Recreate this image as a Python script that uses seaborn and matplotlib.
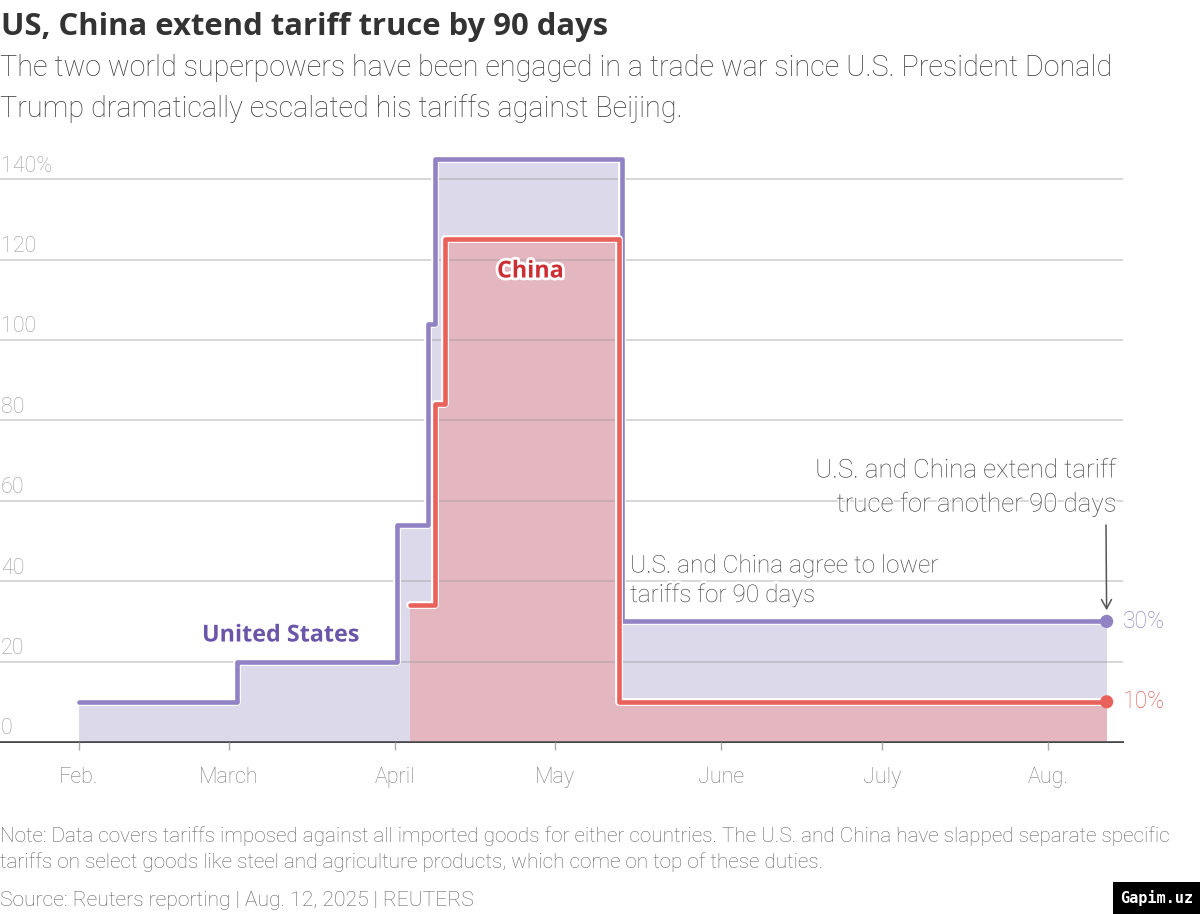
import matplotlib
matplotlib.use("Agg")
import matplotlib.pyplot as plt
import matplotlib.dates as mdates
import matplotlib.patheffects as pe
from matplotlib.transforms import ScaledTranslation
from matplotlib.patches import Rectangle
import seaborn as sns
import pandas as pd

# ---------------- data ----------------
us_dates = ["2025-02-01 00:00", "2025-03-02 14:00", "2025-04-01 11:00", "2025-04-07 08:00",
            "2025-04-08 11:00", "2025-05-13 12:00", "2025-08-12 00:00"]
us_rates = [10, 20, 54, 104, 145, 30, 30]

china_dates = ["2025-04-03 21:00", "2025-04-08 12:00", "2025-04-10 10:00",
               "2025-05-12 22:00", "2025-08-12 00:00"]
china_rates = [34, 84, 125, 10, 10]

month_ticks = ["2025-02-01", "2025-03-01", "2025-04-01", "2025-05-01",
               "2025-06-01", "2025-07-01", "2025-08-01"]
month_labels = ["Feb.", "March", "April", "May", "June", "July", "Aug."]
y_ticks = [0, 20, 40, 60, 80, 100, 120, 140]
y_labels = ["0", "20", "40", "60", "80", "100", "120", "140%"]

# ---------------- style ----------------
US_LINE = "#9182c4"
US_FILL = "#dcd9ea"
US_TEXT = "#6a55a8"
US_END = "#9188c4"
CN_LINE = "#e8615a"
CN_FILL = "#e4b6c0"
CN_TEXT = "#cc2f33"
CN_END = "#de5f57"

sns.set_theme(style="white")
plt.rcParams['font.family'] = ['Roboto', 'DejaVu Sans']
BOLD_FAMILY = ['Open Sans', 'DejaVu Sans']

W, H = 1200, 914
fig = plt.figure(figsize=(12, 9.14), dpi=100)
fig.patch.set_facecolor("white")


def fx(x):
    return x / W


def fy(y):
    return 1 - y / H


ax = fig.add_axes([0, fy(742), fx(1123), (742 - 139) / H])
ax.set_facecolor("white")

us = pd.DataFrame({"date": pd.to_datetime(us_dates, format="%Y-%m-%d %H:%M"), "rate": us_rates})
cn = pd.DataFrame({"date": pd.to_datetime(china_dates, format="%Y-%m-%d %H:%M"), "rate": china_rates})

ax.fill_between(us["date"], us["rate"], step="post", color=US_FILL, lw=0, zorder=1)
ax.fill_between(cn["date"], cn["rate"], step="post", color=CN_FILL, lw=0, zorder=1.2)

stroke = [pe.withStroke(linewidth=5.6, foreground="white")]
sns.lineplot(data=us, x="date", y="rate", drawstyle="steps-post", color=US_LINE,
             lw=3.3, ax=ax, zorder=3, path_effects=stroke)
sns.lineplot(data=cn, x="date", y="rate", drawstyle="steps-post", color=CN_LINE,
             lw=3.3, ax=ax, zorder=3.2, path_effects=stroke)

sns.scatterplot(x=[us["date"].iloc[-1]], y=[us["rate"].iloc[-1]], color=US_LINE,
                s=90, edgecolor="none", ax=ax, zorder=4)
sns.scatterplot(x=[cn["date"].iloc[-1]], y=[cn["rate"].iloc[-1]], color=CN_LINE,
                s=90, edgecolor="none", ax=ax, zorder=4)

# axes limits
start = mdates.date2num(pd.Timestamp("2025-02-01"))
ax.set_xlim(start - 14.7, start + 195.05)
ax.set_ylim(0, 150)
ax.set_xlabel("")
ax.set_ylabel("")

# grid
ax.set_axisbelow(False)
ax.yaxis.grid(True, color="#9a9a9a", alpha=0.5, lw=1.1)
ax.xaxis.grid(False)

for s in ["top", "right", "left"]:
    ax.spines[s].set_visible(False)
ax.spines["bottom"].set_color("#333333")
ax.spines["bottom"].set_linewidth(1.3)

# y ticks
ax.set_yticks(y_ticks, y_labels)
ax.tick_params(axis="y", length=0, pad=0, labelsize=15.5, labelcolor="#9c9c9c")
off = ScaledTranslation(0.01, 0.075, fig.dpi_scale_trans)
for lab in ax.get_yticklabels():
    lab.set_horizontalalignment("left")
    lab.set_verticalalignment("baseline")
    lab.set_fontweight("light")
    lab.set_transform(lab.get_transform() + off)

# x ticks
ax.set_xticks(pd.to_datetime(month_ticks, format="%Y-%m-%d"), month_labels)
ax.tick_params(axis="x", length=6, width=1, color="#aaaaaa", direction="out",
               pad=12, labelsize=15.5, labelcolor="#7c7c7c", bottom=True)
for lab in ax.get_xticklabels():
    lab.set_fontweight("light")

# end labels
ax.annotate(f"{us_rates[-1]}%", xy=(us["date"].iloc[-1], us_rates[-1]),
            xytext=(11.5, 0), textcoords="offset points", ha="left", va="center",
            fontsize=16.5, color=US_END, fontweight="light", zorder=5)
ax.annotate(f"{china_rates[-1]}%", xy=(cn["date"].iloc[-1], china_rates[-1]),
            xytext=(11.5, 0), textcoords="offset points", ha="left", va="center",
            fontsize=16.5, color=CN_END, fontweight="light", zorder=5)

# arrow
ax.annotate("", xy=(us["date"].iloc[-1], us_rates[-1]), xycoords="data",
            xytext=(fx(1106), fy(525)), textcoords="figure fraction",
            arrowprops=dict(arrowstyle="->,head_length=0.55,head_width=0.3",
                            color="#555555", lw=1.1, shrinkA=0, shrinkB=8),
            zorder=5)

# in-chart labels
white_stroke = [pe.withStroke(linewidth=4, foreground="white")]
fig.text(fx(202), fy(641.5), "United States", ha="left", va="baseline",
         fontsize=16.8, fontweight="bold", color=US_TEXT, path_effects=white_stroke,
         family=BOLD_FAMILY)
fig.text(fx(497), fy(277.5), "China", ha="left", va="baseline",
         fontsize=16.8, fontweight="bold", color=CN_TEXT, path_effects=white_stroke,
         family=BOLD_FAMILY)

ann_color = "#454545"
fig.text(fx(630), fy(572.5), "U.S. and China agree to lower", ha="left", va="baseline",
         fontsize=17.6, fontweight="light", color=ann_color, path_effects=white_stroke)
fig.text(fx(630), fy(602), "tariffs for 90 days", ha="left", va="baseline",
         fontsize=17.6, fontweight="light", color=ann_color, path_effects=white_stroke)
thin_stroke = [pe.withStroke(linewidth=2.5, foreground="white")]
fig.text(fx(1117), fy(477.5), "U.S. and China extend tariff", ha="right", va="baseline",
         fontsize=18.6, fontweight="light", color=ann_color, path_effects=thin_stroke)
fig.text(fx(1117), fy(511.5), "truce for another 90 days", ha="right", va="baseline",
         fontsize=18.6, fontweight="light", color=ann_color, path_effects=thin_stroke)

# title & subtitle
fig.text(fx(1), fy(35.5), "US, China extend tariff truce by 90 days", ha="left",
         va="baseline", fontsize=22.3, fontweight="bold", color="#333333",
         family=BOLD_FAMILY)
fig.text(fx(0), fy(75.5), "The two world superpowers have been engaged in a trade war since U.S. President Donald",
         ha="left", va="baseline", fontsize=20.7, fontweight="light", color="#3e3e3e")
fig.text(fx(0), fy(117), "Trump dramatically escalated his tariffs against Beijing.",
         ha="left", va="baseline", fontsize=20.7, fontweight="light", color="#3e3e3e")

# notes
note_color = "#626262"
fig.text(fx(0), fy(842), "Note: Data covers tariffs imposed against all imported goods for either countries. The U.S. and China have slapped separate specific",
         ha="left", va="baseline", fontsize=14.95, fontweight="light", color=note_color)
fig.text(fx(0), fy(868), "tariffs on select goods like steel and agriculture products, which come on top of these duties.",
         ha="left", va="baseline", fontsize=14.95, fontweight="light", color=note_color)
fig.text(fx(0), fy(906), "Source: Reuters reporting | Aug. 12, 2025 | REUTERS",
         ha="left", va="baseline", fontsize=15.2, fontweight="light", color=note_color)

# watermark
fig.add_artist(Rectangle((fx(1113), fy(914)), fx(87), 32 / H, transform=fig.transFigure,
                         facecolor="black", edgecolor="none"))
fig.text(fx(1156.5), fy(898), "Gapim.uz", ha="center", va="center", fontsize=11,
         color="white", family=["DejaVu Sans Mono", "DejaVu Sans"], fontweight="bold")

fig.savefig("out.png", dpi=100, facecolor="white")
